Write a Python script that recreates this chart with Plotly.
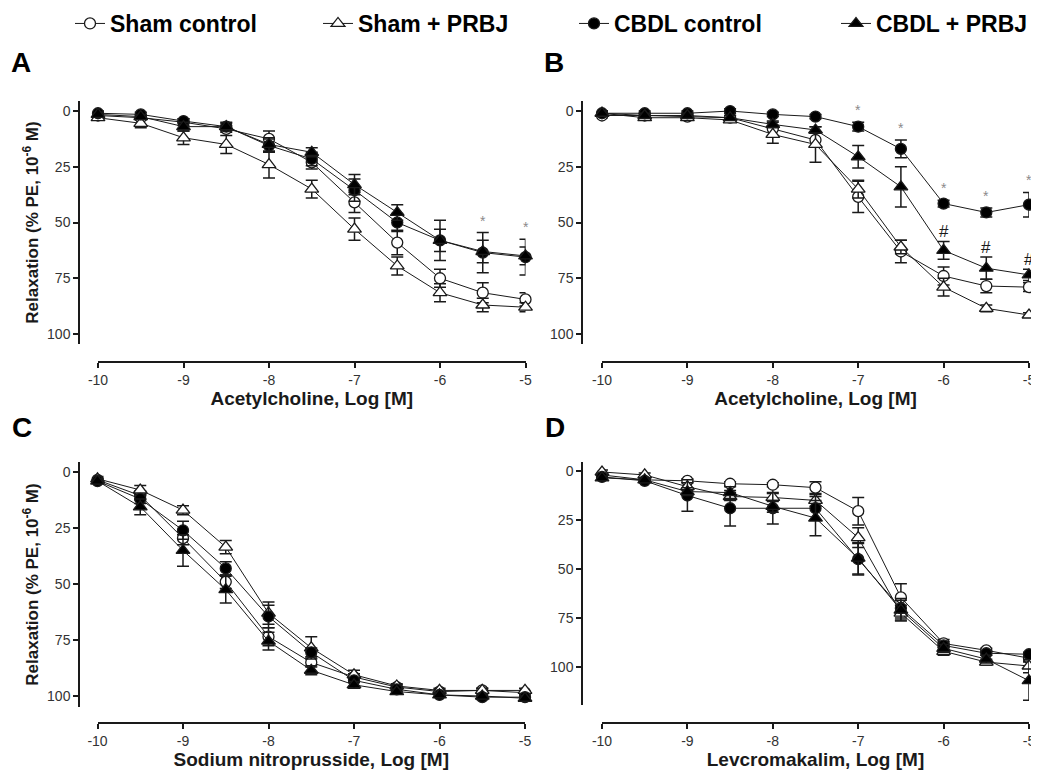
import plotly.graph_objects as go

# The page body adds an 8 px margin; the figure is sized so that it fills
# the 1039x776 window from (8, 8). All layout positions below are given in
# window pixels and converted to paper fractions.
OFF = 8
W, H = 1039 - OFF, 776 - OFF


def fx(p):
    return (p - OFF) / W


def fy(p):
    return 1 - (p - OFF) / H


# ---------------- data ----------------
log_conc = [-10, -9.5, -9, -8.5, -8, -7.5, -7, -6.5, -6, -5.5, -5]
x_tickvals = [-10, -9, -8, -7, -6, -5]
x_ticktext = ["-10", "-9", "-8", "-7", "-6", "-5"]
y_tickvals = [0, 25, 50, 75, 100]
series_names = ["Sham control", "Sham + PRBJ", "CBDL control", "CBDL + PRBJ"]

# Panel A - Acetylcholine
A_sham_ctrl = [2, 3, 5, 8, 12.5, 23, 41, 59, 75, 81.5, 84.5]
A_sham_ctrl_err = [1, 1, 1.5, 1.5, 3.5, 3, 4.5, 5.5, 4, 4.5, 3]
A_sham_prbj = [3, 5.5, 12, 15, 24, 35, 53, 69.5, 81.5, 87, 88]
A_sham_prbj_err = [1, 2, 3, 4, 6, 4, 5, 4, 4, 3, 2]
A_cbdl_ctrl = [1, 1.5, 4.5, 7, 15.5, 21.5, 35.5, 50, 58, 63.5, 65.5]
A_cbdl_ctrl_err = [1, 1, 1, 1.5, 3, 3, 5, 4, 9, 9, 8]
A_cbdl_prbj = [1.5, 2.5, 7, 7, 15, 18.5, 33, 45.5, 58, 63, 65]
A_cbdl_prbj_err = [1, 1, 2, 2, 3, 2, 4.5, 3.5, 5, 5, 4]

# Panel B - Acetylcholine
B_sham_ctrl = [2, 2, 2.5, 3, 8, 13, 38.5, 63, 74, 78.5, 79]
B_sham_ctrl_err = [1, 1, 1, 1, 3, 3, 7, 5, 4, 3, 2]
B_sham_prbj = [1, 3, 3, 4, 10.5, 15, 35, 61, 79, 88.5, 91.5]
B_sham_prbj_err = [1, 1, 1, 1, 4, 8, 4, 3, 4, 1.5, 1]
B_cbdl_ctrl = [1, 1, 1, 0, 1.5, 2.5, 7, 17, 41.5, 45.5, 42]
B_cbdl_ctrl_err = [1, 1, 1, 1, 1, 1, 2, 4, 1.5, 2, 5.5]
B_cbdl_prbj = [1, 2, 2, 3, 6, 8.5, 20.5, 34, 62.5, 70.5, 73.5]
B_cbdl_prbj_err = [1, 1, 1, 1, 1.5, 1.5, 5, 9, 4, 5, 2.5]

# Panel C - Sodium nitroprusside
C_sham_ctrl = [3.5, 10.5, 29.5, 49, 73.5, 85, 91.5, 96, 98, 97.5, 98.5]
C_sham_ctrl_err = [1, 2, 3, 3, 4, 2, 1.5, 1, 1, 1, 1]
C_sham_prbj = [3, 8, 17, 33.5, 63, 78.5, 90.5, 95.5, 97.5, 97.5, 97.5]
C_sham_prbj_err = [1, 2, 2, 3, 5, 5, 2, 1, 1, 1, 1]
C_cbdl_ctrl = [4, 12, 26, 43, 64.5, 80.5, 93, 97, 99.5, 100.5, 100.5]
C_cbdl_ctrl_err = [1, 2, 4, 3, 5, 2, 1, 1, 1, 1, 1]
C_cbdl_prbj = [4, 15.5, 35, 52.5, 75.5, 88.5, 95, 98, 99.5, 100, 101]
C_cbdl_prbj_err = [1, 3.5, 7, 6, 4, 2, 1.5, 1, 1, 1, 1]

# Panel D - Levcromakalim
D_sham_ctrl = [2, 4.5, 5, 6.5, 7, 8.5, 20.5, 64.5, 88, 91.5, 95.5]
D_sham_ctrl_err = [1, 1, 1, 1, 1, 3, 7, 7, 2, 1, 2]
D_sham_prbj = [0.5, 2, 8, 13, 13.5, 15, 34, 72.5, 92, 97.5, 99.5]
D_sham_prbj_err = [1, 1, 2, 2, 2, 3, 5, 4, 2, 1.5, 3.5]
D_cbdl_ctrl = [3, 5, 12.5, 19, 19, 19, 45, 70, 89, 93, 93.5]
D_cbdl_ctrl_err = [1, 1, 8, 9, 8, 6, 8, 5, 2, 1, 1]
D_cbdl_prbj = [3.5, 4.5, 10.5, 11, 18, 24, 44.5, 71, 90.5, 96, 107]
D_cbdl_prbj_err = [1, 1, 2, 3, 3, 9, 8, 5, 2, 2, 10]

# significance marks (indices into log_conc)
A_star_idx = [9, 10]            # * on CBDL control
B_star_idx = [6, 7, 8, 9, 10]   # * on CBDL control
B_hash_idx = [8, 9, 10]         # # on CBDL + PRBJ

# ---------------- styling ----------------
FONT = "Liberation Sans, Arial, sans-serif"
INK = "#1a1a1a"
symbols = ["circle", "triangle-up", "circle", "triangle-up"]
fills = ["white", "white", "black", "black"]
msizes = [11, 12, 11, 12]
legend_ids = ["legend", "legend2", "legend3", "legend4"]
legend_left_px = [70, 318, 574, 836]

panels = [
    dict(label="A", ax="", series=[(A_sham_ctrl, A_sham_ctrl_err), (A_sham_prbj, A_sham_prbj_err),
                                  (A_cbdl_ctrl, A_cbdl_ctrl_err), (A_cbdl_prbj, A_cbdl_prbj_err)],
         xtitle="Acetylcholine, Log [M]", ytitle=True,
         yx=79, ytop=101, ybot=344, xy=362, xl=98, xr=525.5, yr=[104.5, -4.5],
         lab=(9, 62)),
    dict(label="B", ax="2", series=[(B_sham_ctrl, B_sham_ctrl_err), (B_sham_prbj, B_sham_prbj_err),
                                   (B_cbdl_ctrl, B_cbdl_ctrl_err), (B_cbdl_prbj, B_cbdl_prbj_err)],
         xtitle="Acetylcholine, Log [M]", ytitle=False,
         yx=582, ytop=101, ybot=344, xy=362, xl=602, xr=1029, yr=[104.5, -4.5],
         lab=(542, 62)),
    dict(label="C", ax="3", series=[(C_sham_ctrl, C_sham_ctrl_err), (C_sham_prbj, C_sham_prbj_err),
                                   (C_cbdl_ctrl, C_cbdl_ctrl_err), (C_cbdl_prbj, C_cbdl_prbj_err)],
         xtitle="Sodium nitroprusside, Log [M]", ytitle=True,
         yx=79, ytop=462, ybot=707, xy=723, xl=97.5, xr=525, yr=[104.9, -4.5],
         lab=(10, 427)),
    dict(label="D", ax="4", series=[(D_sham_ctrl, D_sham_ctrl_err), (D_sham_prbj, D_sham_prbj_err),
                                   (D_cbdl_ctrl, D_cbdl_ctrl_err), (D_cbdl_prbj, D_cbdl_prbj_err)],
         xtitle="Levcromakalim, Log [M]", ytitle=False,
         yx=582, ytop=462, ybot=705, xy=723, xl=602, xr=1029, yr=[119.4, -4.6],
         lab=(543, 427)),
]

fig = go.Figure()
annotations = []
layout_axes = {}

for pi, p in enumerate(panels):
    xa = "x" + p["ax"]
    ya = "y" + p["ax"]
    for si, (vals, errs) in enumerate(p["series"]):
        fig.add_trace(go.Scatter(
            x=log_conc, y=vals, xaxis=xa, yaxis=ya,
            mode="lines+markers", name=series_names[si],
            legend=legend_ids[si], showlegend=(pi == 0),
            line=dict(color=INK, width=1),
            marker=dict(symbol=symbols[si], size=msizes[si], color=fills[si],
                        line=dict(color=INK, width=1.3)),
            error_y=dict(type="data", array=errs, visible=True, color=INK,
                         thickness=1.5, width=6),
            cliponaxis=False,
        ))
    xkey = "xaxis" + p["ax"]
    ykey = "yaxis" + p["ax"]
    layout_axes[xkey] = dict(
        domain=[fx(p["xl"]), fx(p["xr"])], anchor="free", position=fy(p["xy"]),
        range=[-10, -5], tickvals=x_tickvals, ticktext=x_ticktext,
        showline=True, linecolor=INK, linewidth=1.5, ticks="outside", ticklen=5,
        tickwidth=1.5, tickcolor=INK, showgrid=False, zeroline=False,
        tickfont=dict(family=FONT, size=14, color="#333"),
        title=dict(text=p["xtitle"], font=dict(family=FONT, size=19, color=INK, weight="bold"),
                   standoff=4),
    )
    ycfg = dict(
        domain=[fy(p["ybot"]), fy(p["ytop"])], anchor="free", position=fx(p["yx"]),
        range=p["yr"], tickvals=y_tickvals,
        showline=True, linecolor=INK, linewidth=1.5, ticks="outside", ticklen=5,
        tickwidth=1.5, tickcolor=INK, showgrid=False, zeroline=False,
        tickfont=dict(family=FONT, size=14, color="#333"),
    )
    if p["ytitle"]:
        ycfg["title"] = dict(text="Relaxation (% PE, 10<sup>-6</sup> M)",
                             font=dict(family=FONT, size=17, color=INK, weight="bold"),
                             standoff=3)
    layout_axes[ykey] = ycfg
    annotations.append(dict(
        text=p["label"], xref="paper", yref="paper", x=fx(p["lab"][0]), y=fy(p["lab"][1]),
        xanchor="left", yanchor="middle", showarrow=False,
        font=dict(family=FONT, size=28, color="black", weight="bold")))


def add_marks(axsuffix, idxs, vals, errs, txt, size, color, shift):
    for i in idxs:
        annotations.append(dict(
            text=txt, xref="x" + axsuffix, yref="y" + axsuffix,
            x=log_conc[i], y=vals[i] - errs[i], xanchor="center", yanchor="bottom",
            yshift=shift, showarrow=False, font=dict(family=FONT, size=size, color=color)))


add_marks("", A_star_idx, A_cbdl_ctrl, A_cbdl_ctrl_err, "*", 14, "#8a8a8a", 2)
add_marks("2", B_star_idx, B_cbdl_ctrl, B_cbdl_ctrl_err, "*", 14, "#8a8a8a", 2)
add_marks("2", B_hash_idx, B_cbdl_prbj, B_cbdl_prbj_err, "#", 17, INK, -2)

legends = {}
for lid, lx in zip(legend_ids, legend_left_px):
    legends[lid] = dict(orientation="h", x=fx(lx), y=fy(2), xanchor="left", yanchor="top",
                        font=dict(family=FONT, size=23, color="black", weight="bold"),
                        bgcolor="rgba(0,0,0,0)")

fig.update_layout(
    width=W, height=H,
    margin=dict(l=0, r=0, t=0, b=0, autoexpand=False),
    paper_bgcolor="white", plot_bgcolor="white",
    font=dict(family=FONT, color=INK),
    showlegend=True,
    annotations=annotations,
    **legends,
    **layout_axes,
)

fig.write_html("out.html")
